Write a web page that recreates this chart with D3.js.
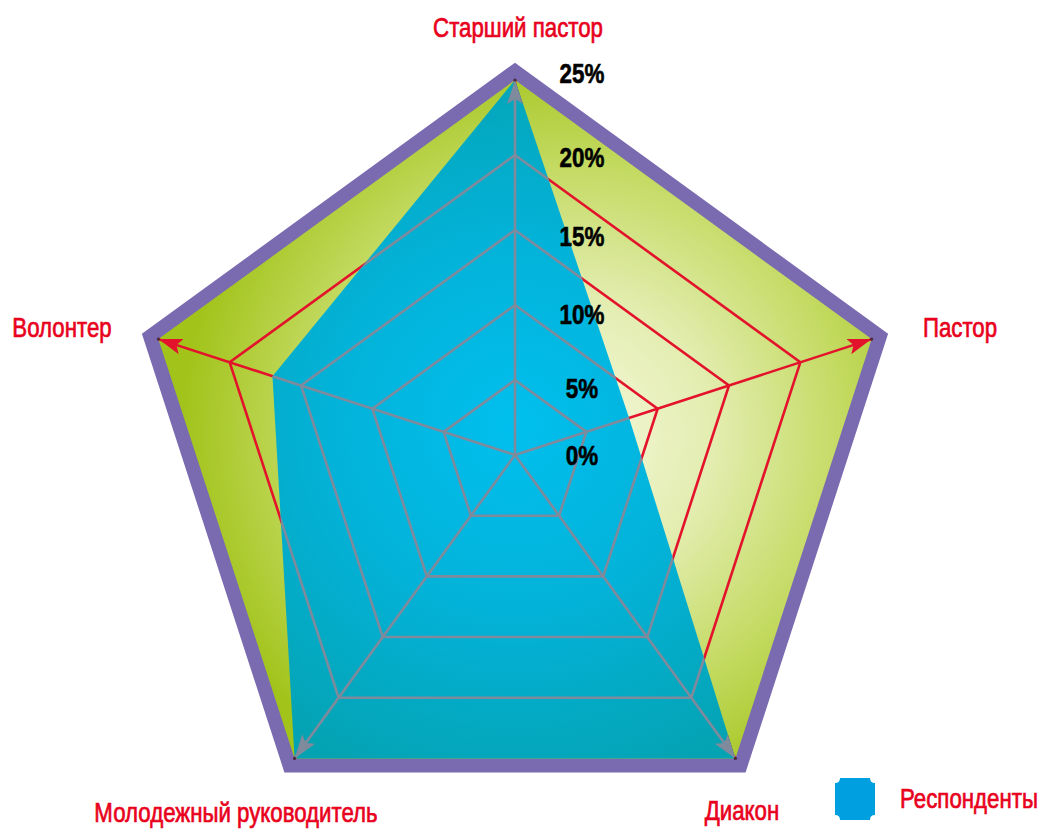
<!DOCTYPE html>
<html><head><meta charset="utf-8">
<script src="https://cdn.jsdelivr.net/npm/d3@7"></script>
<style>
html,body{margin:0;padding:0;background:#fff;}
svg{display:block;}
.lbl{font-family:"Liberation Sans",Arial,sans-serif;}
</style></head>
<body><svg id="chart" width="1042" height="829"></svg>
<script>
const categories = ["Старший пастор", "Пастор", "Диакон", "Молодежный руководитель", "Волонтер"];
const values = [25, 8, 25, 25, 17];
const tickValues = [0, 5, 10, 15, 20, 25];
const tickLabels = ["0%", "5%", "10%", "15%", "20%", "25%"];
const seriesName = "Респонденты";

const W = 1042, H = 829, cx = 515, cy = 455, R = 375;
const svg = d3.select("#chart");
const r = d3.scaleLinear().domain([0, 25]).range([0, R]);
const n = categories.length;
const ang = d3.scaleLinear().domain([0, n]).range([-Math.PI / 2, 3 * Math.PI / 2]);
const pt = (i, v) => [cx + Math.cos(ang(i)) * r(v), cy + Math.sin(ang(i)) * r(v)];
const ring = v => d3.range(n).map(i => pt(i, v));
const closed = d3.line().curve(d3.curveLinearClosed);

const RED = "#e3132c", GRAY = "#7f8a9c", PURPLE = "#7a6bb0", SX = 0.795;

const defs = svg.append("defs");
const g1 = defs.append("radialGradient").attr("id", "bgGrad").attr("gradientUnits", "userSpaceOnUse")
  .attr("cx", cx + 60).attr("cy", cy - 20).attr("r", R * 1.05);
[[0, "#f6f8dc"], [0.35, "#e3edb0"], [0.7, "#c2d95e"], [1, "#a2c31a"]].forEach(([o, c]) =>
  g1.append("stop").attr("offset", o).attr("stop-color", c));
const g2 = defs.append("radialGradient").attr("id", "blueGrad").attr("gradientUnits", "userSpaceOnUse")
  .attr("cx", cx).attr("cy", cy - 30).attr("r", R);
[[0, "#00bfee"], [0.5, "#03b2d8"], [1, "#04a3b3"]].forEach(([o, c]) =>
  g2.append("stop").attr("offset", o).attr("stop-color", c));

function marker(id, color) {
  defs.append("marker").attr("id", id).attr("markerUnits", "userSpaceOnUse")
    .attr("markerWidth", 26).attr("markerHeight", 18).attr("refX", 24).attr("refY", 9)
    .attr("orient", "auto")
    .append("path").attr("d", "M0,1 L24,9 L0,17 L5,9 Z").attr("fill", color);
}
marker("arrRed", RED);
marker("arrGray", GRAY);

const dataPts = values.map((v, i) => pt(i, v));
defs.append("clipPath").attr("id", "blueClip").append("path").attr("d", closed(dataPts));

// outer frame
svg.append("path").attr("d", closed(ring(25))).attr("fill", PURPLE)
  .attr("stroke", PURPLE).attr("stroke-width", 28).attr("stroke-linejoin", "miter");
svg.append("path").attr("d", closed(ring(25))).attr("fill", "url(#bgGrad)");

function drawGrid(parent, color, mk) {
  parent.selectAll("path.ring").data(tickValues.filter(t => t > 0 && t < 25)).join("path")
    .attr("class", "ring").attr("d", t => closed(ring(t)))
    .attr("fill", "none").attr("stroke", color).attr("stroke-width", 2.6);
  parent.selectAll("line.axis").data(d3.range(n)).join("line")
    .attr("class", "axis")
    .attr("x1", cx).attr("y1", cy)
    .attr("x2", i => pt(i, 25)[0]).attr("y2", i => pt(i, 25)[1])
    .attr("stroke", color).attr("stroke-width", 2.6)
    .attr("marker-end", `url(#${mk})`);
}
drawGrid(svg.append("g"), RED, "arrRed");

svg.append("path").attr("d", closed(dataPts)).attr("fill", "url(#blueGrad)");

drawGrid(svg.append("g").attr("clip-path", "url(#blueClip)"), GRAY, "arrGray");

svg.selectAll("circle.tip").data(d3.range(n)).join("circle")
  .attr("cx", i => pt(i, 25)[0]).attr("cy", i => pt(i, 25)[1]).attr("r", 1.6).attr("fill", "#4a2a3a");

// tick labels
const tickOffset = [0, 8, 9, 6, 2, -7];
svg.selectAll("text.tick").data(tickValues).join("text")
  .attr("class", "lbl tick")
  .attr("transform", (t, i) => `translate(582,${cy - r(t) + tickOffset[i] + 10}) scale(0.8,1)`)
  .attr("text-anchor", "middle")
  .attr("font-size", 28).attr("font-weight", "bold").attr("fill", "#000")
  .attr("stroke", "#000").attr("stroke-width", 0.6)
  .text((t, i) => tickLabels[i]);

// category labels
const labelPos = [[518, 37], [960, 337], [742, 820], [236, 822], [62, 337]];
svg.selectAll("text.cat").data(categories).join("text")
  .attr("class", "lbl cat")
  .attr("transform", (d, i) => `translate(${labelPos[i][0]},${labelPos[i][1]}) scale(${SX},1)`)
  .attr("text-anchor", "middle")
  .attr("font-size", 28).attr("fill", "#e8001c")
  .attr("stroke", "#e8001c").attr("stroke-width", 0.7)
  .text(d => d);

// legend
const lg = svg.append("g").attr("transform", "translate(855,799)");
const hw = 20, hh = 21, c = 5;
lg.append("path").attr("d", `M${-hw + c},${-hh} L${hw - c},${-hh} Q${hw - c},${-hh + c} ${hw},${-hh + c} L${hw},${hh - c} Q${hw - c},${hh - c} ${hw - c},${hh} L${-hw + c},${hh} Q${-hw + c},${hh - c} ${-hw},${hh - c} L${-hw},${-hh + c} Q${-hw + c},${-hh + c} ${-hw + c},${-hh} Z`)
  .attr("fill", "#009fe0");
lg.append("text").attr("class", "lbl").attr("text-anchor", "start")
  .attr("transform", `translate(45,9) scale(${SX},1)`)
  .attr("font-size", 28).attr("fill", "#e8001c")
  .attr("stroke", "#e8001c").attr("stroke-width", 0.7)
  .text(seriesName);
</script></body></html>
